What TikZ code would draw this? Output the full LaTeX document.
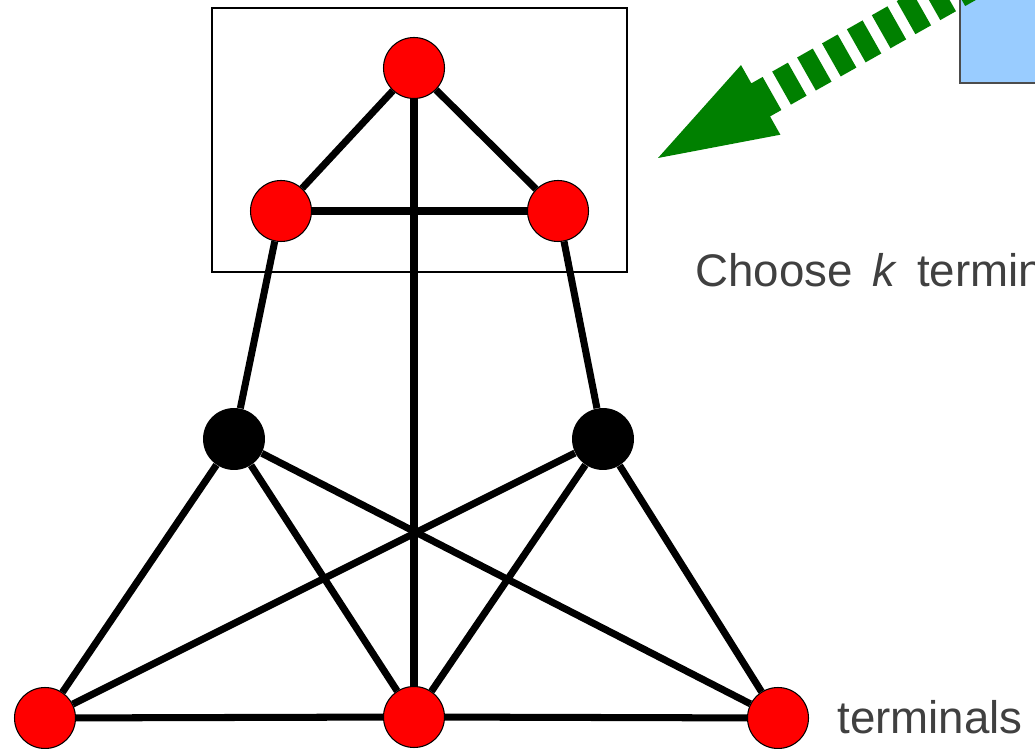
\documentclass[tikz,border=0pt]{standalone}
\usepackage{fontspec}
\setmainfont{Liberation Sans}
\usetikzlibrary{backgrounds}
\definecolor{termred}{RGB}{255,0,0}
\definecolor{arrowgreen}{RGB}{0,128,0}
\definecolor{boxblue}{RGB}{153,204,255}
\definecolor{textgrey}{RGB}{64,64,64}
\tikzset{
  terminal/.style={circle, draw=black, line width=0.6pt, fill=termred, minimum size=1.22cm, inner sep=0pt},
  steiner/.style={circle, fill=black, minimum size=1.24cm, inner sep=0pt},
  link/.style={line width=4pt},
  bigtext/.style={text=textgrey, font=\fontsize{26}{31}\selectfont, inner sep=0pt}
}

\begin{document}
\begin{tikzpicture}[x=0.02cm, y=-0.02cm]
        \useasboundingbox (0,0) rectangle (1035,749);
        \clip (0,0) rectangle (1035,749);
        % frame round the top triangle
        \draw[line width=0.6pt] (212,8) rectangle (627,272);
        % top triangle
        \node[terminal] (a) at (414,68) {};
        \node[terminal] (b) at (281,211) {};
        \node[terminal] (c) at (558,211) {};
        % middle row
        \node[steiner] (d) at (234,439) {};
        \node[steiner] (e) at (603,439) {};
        % bottom row
        \node[terminal] (f) at (45,718) {};
        \node[terminal] (g) at (414,717) {};
        \node[terminal] (h) at (778,718) {};
        % edges
        \begin{pgfonlayer}{background}
        \draw[link] (a) -- (b);
        \draw[link] (a) -- (c);
        \draw[link] (b) -- (c);
        \draw[link] (a) -- (g);
        \draw[link] (b) -- (d);
        \draw[link] (c) -- (e);
        \draw[link] (d) -- (f);
        \draw[link] (d) -- (g);
        \draw[link] (d) -- (h);
        \draw[link] (e) -- (f);
        \draw[link] (e) -- (g);
        \draw[link] (e) -- (h);
        \draw[link] (f) -- (g);
        \draw[link] (g) -- (h);
        \end{pgfonlayer}
        % blue box, top right
        \filldraw[fill=boxblue, draw=black!70, line width=1pt] (960,-20) rectangle (1060,83);
        % striped arrow
        \begin{scope}[shift={(658,158)}, rotate=29.5]
        \fill[arrowgreen] (0,0) -- (118,-40) -- (118,-19) -- (131,-19) -- (131,19) -- (118,19) -- (118,40) -- cycle;
        \foreach \k in {0,...,7}
            \fill[arrowgreen] ({142+28.6*\k},-19) rectangle +(18,38);
        \end{scope}
        % texts
        \node[bigtext, anchor=base west] (choose) at (695,287) {Choose \hspace{4pt}\textit{k}\hspace{4pt} terminals};
        \node[bigtext, anchor=base west] (term) at (837,733) {terminals};
    \end{tikzpicture}
\end{document}
